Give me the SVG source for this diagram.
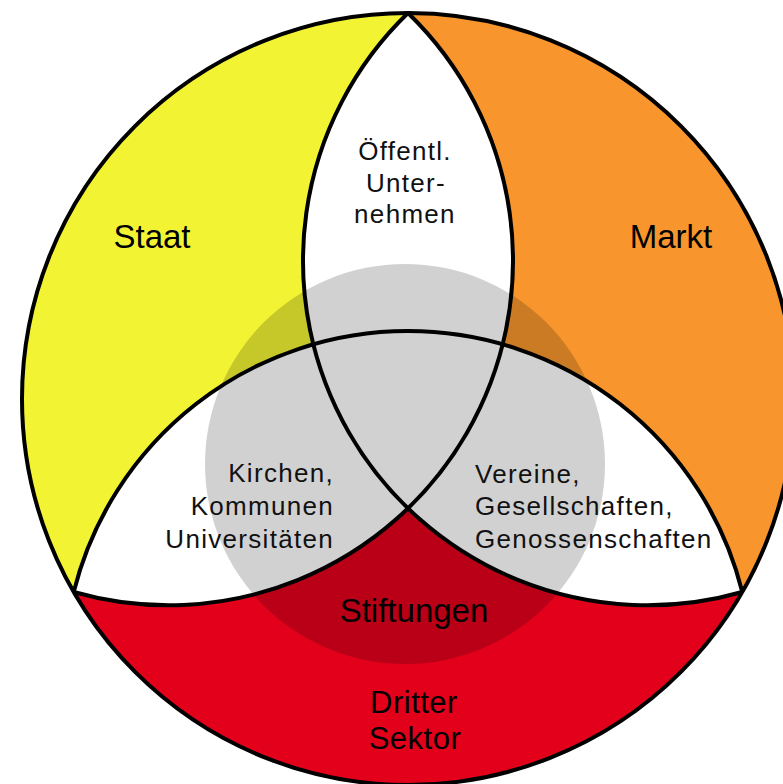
<svg xmlns="http://www.w3.org/2000/svg" width="783" height="784" viewBox="0 0 783 784">
<style>
.line{fill:none;stroke:#000;stroke-width:4}
.big{font-family:"Liberation Sans",Arial,sans-serif;font-size:33px;fill:#000}
.ds{font-family:"Liberation Sans",Arial,sans-serif;font-size:31px;letter-spacing:0.5px;fill:#000}
.small{font-family:"Liberation Sans",Arial,sans-serif;font-size:26px;letter-spacing:1.3px;fill:#111}
</style>
<rect width="783" height="784" fill="#fff"/>
<g id="base"><circle cx="408" cy="399" r="386" fill="#fff"/></g>
<g id="staat">
<path d="M408,13 A386,386 0 0 0 73.71,592 A344.6,344.6 0 0 1 313.2,344.25 A344.6,344.6 0 0 1 408,13 Z" fill="#f2f433"/>
</g>
<g id="markt">
<path d="M408,13 A344.6,344.6 0 0 1 502.8,344.25 A344.6,344.6 0 0 1 742.29,592 A386,386 0 0 0 408,13 Z" fill="#f8962d"/>
</g>
<g id="dritter-sektor">
<path d="M73.71,592 A344.6,344.6 0 0 0 408,508.5 A344.6,344.6 0 0 0 742.29,592 A386,386 0 0 1 73.71,592 Z" fill="#e2001b"/>
</g>
<g id="kern"><circle cx="405" cy="464" r="200" fill="#000" fill-opacity="0.18"/></g>
<g id="connectors">
<path class="line" d="M73.71,592 A344.6,344.6 0 0 1 742.29,592"/>
<path class="line" d="M408,13 A344.6,344.6 0 0 0 742.29,592"/>
<path class="line" d="M408,13 A344.6,344.6 0 0 1 73.71,592"/>
<circle class="line" cx="408" cy="399" r="386" stroke-width="4.5"/>
</g>
<g id="labels">
<text class="big" x="152" y="248" text-anchor="middle">Staat</text>
<text class="big" x="671" y="248" text-anchor="middle">Markt</text>
<text class="small" text-anchor="middle"><tspan x="405" y="160">Öffentl.</tspan><tspan x="406" y="192">Unter-</tspan><tspan x="405" y="223">nehmen</tspan></text>
<text class="small" text-anchor="end"><tspan x="334" y="482">Kirchen,</tspan><tspan x="334" y="515">Kommunen</tspan><tspan x="334" y="548">Universitäten</tspan></text>
<text class="small"><tspan x="475" y="483">Vereine,</tspan><tspan x="475" y="515">Gesellschaften,</tspan><tspan x="475" y="548">Genossenschaften</tspan></text>
<text class="big" x="414" y="622" text-anchor="middle">Stiftungen</text>
<text class="ds" text-anchor="middle"><tspan x="414" y="713">Dritter</tspan><tspan x="415" y="749">Sektor</tspan></text>
</g>
</svg>
